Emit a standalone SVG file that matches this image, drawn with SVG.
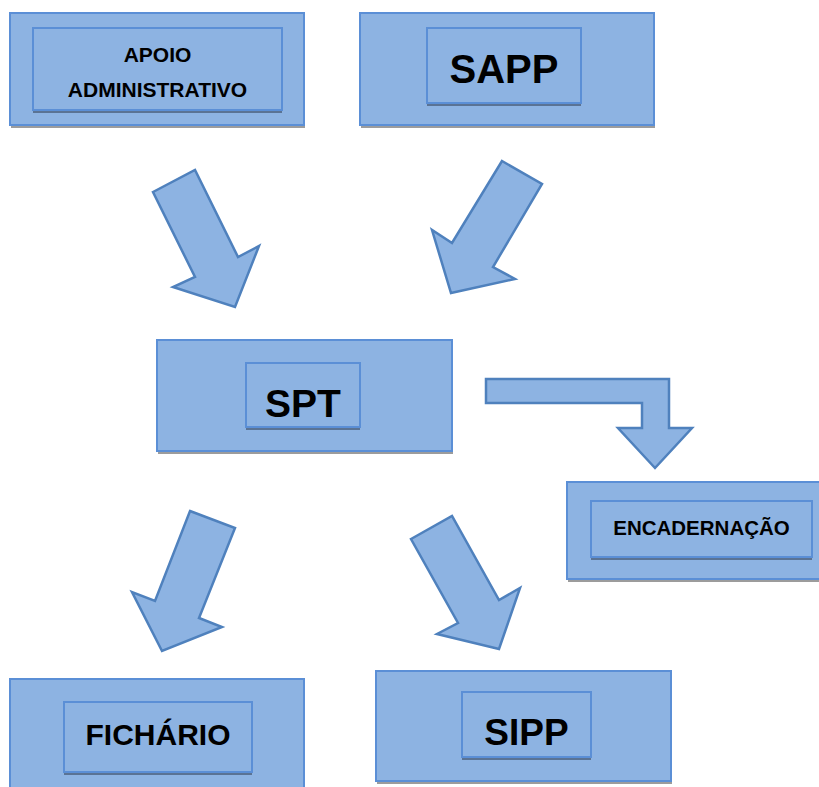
<svg xmlns="http://www.w3.org/2000/svg" width="819" height="787" viewBox="0 0 819 787">
<style>
.outer{fill:#8db3e2;stroke:#5b8fd6;stroke-width:2}
.inner{fill:#8db3e2;stroke:#5b8fd6;stroke-width:2}
.osh{fill:#9c9c9c}
.ish{fill:#5a7394}
.arrow{fill:#8db3e2;stroke:#4f81bd;stroke-width:2.5;stroke-linejoin:miter}
text{font-family:"Liberation Sans",Arial,sans-serif;font-weight:bold;fill:#000;text-anchor:middle}
</style>
<rect width="819" height="787" fill="#fff"/>
<g id="apoio">
<rect class="osh" x="11" y="14" width="294" height="114"/>
<rect class="outer" x="10" y="13" width="294" height="112"/>
<rect class="ish" x="33" y="29" width="249" height="84"/>
<rect class="inner" x="33" y="28" width="249" height="82"/>
<text x="157.5" y="62" font-size="21">APOIO</text>
<text x="157.5" y="97" font-size="21">ADMINISTRATIVO</text>
</g>
<g id="sapp">
<rect class="osh" x="361" y="14" width="294" height="114"/>
<rect class="outer" x="360" y="13" width="294" height="112"/>
<rect class="ish" x="427" y="29" width="154" height="77"/>
<rect class="inner" x="427" y="28" width="154" height="75"/>
<text x="504" y="83" font-size="40">SAPP</text>
</g>
<g id="spt">
<rect class="osh" x="158" y="342" width="295" height="112"/>
<rect class="outer" x="157" y="340" width="295" height="111"/>
<rect class="ish" x="246" y="364" width="114" height="66"/>
<rect class="inner" x="246" y="363" width="114" height="64"/>
<text x="303" y="417" font-size="39">SPT</text>
</g>
<g id="encadernacao">
<rect class="osh" x="568" y="483" width="260" height="99"/>
<rect class="outer" x="567" y="482" width="260" height="97"/>
<rect class="ish" x="591" y="502" width="221" height="58"/>
<rect class="inner" x="591" y="501" width="221" height="56"/>
<text x="701.5" y="535" font-size="20.5">ENCADERNAÇÃO</text>
</g>
<g id="fichario">
<rect class="outer" x="10" y="679" width="294" height="120"/>
<rect class="ish" x="64" y="703" width="188" height="72"/>
<rect class="inner" x="64" y="702" width="188" height="70"/>
<text x="158" y="745" font-size="30">FICHÁRIO</text>
</g>
<g id="sipp">
<rect class="osh" x="377" y="672" width="295" height="112"/>
<rect class="outer" x="376" y="671" width="295" height="110"/>
<rect class="ish" x="462" y="693" width="129" height="67"/>
<rect class="inner" x="462" y="692" width="129" height="65"/>
<text x="526.5" y="745" font-size="37">SIPP</text>
</g>
<g id="connectors">
<polygon class="arrow" points="153,192 195,170 238,257 259,246 235,307 173,287 195,277"/>
<polygon class="arrow" points="502,161 542,184 493,267 515,279 451,293 432,230 452,243"/>
<polygon class="arrow" points="486,379 669,379 669,428 692,428 655,468 618,428 642,428 642,403 486,403"/>
<polygon class="arrow" points="190,511 235,528 199,618 222,627 162,651 132,592 155,601"/>
<polygon class="arrow" points="411,539 452,516 499,600 520,588 499,649 437,634 458,623"/>
</g>
</svg>
